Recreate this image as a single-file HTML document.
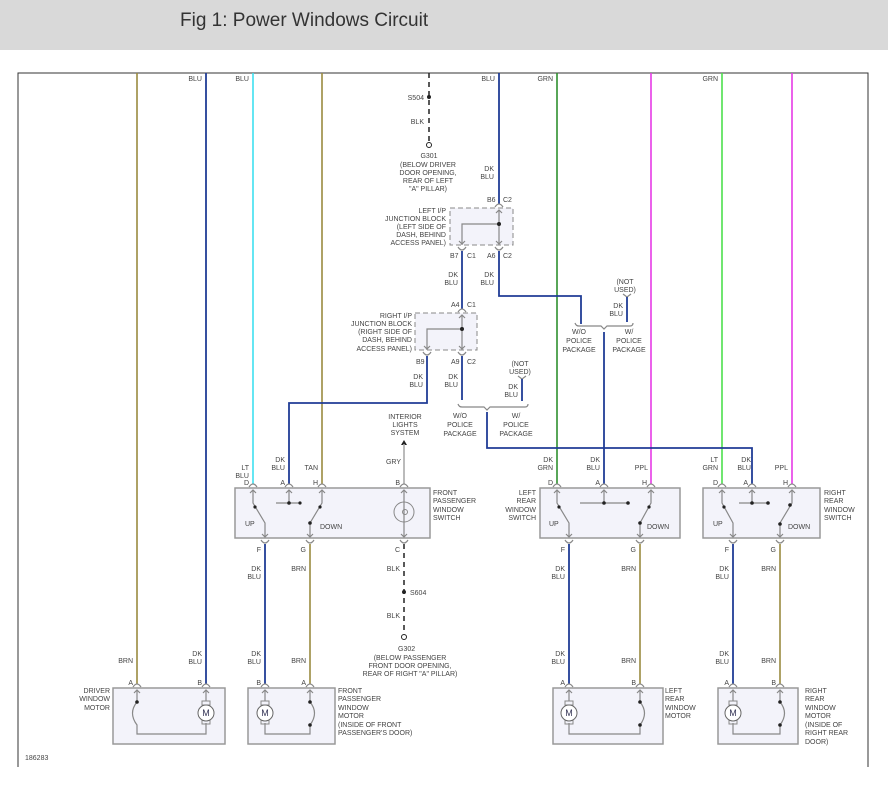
<!DOCTYPE html>
<html><head><meta charset="utf-8"><style>
body{margin:0;background:#fff;}
.hdr{position:absolute;left:0;top:0;width:888px;height:50px;background:#d9d9d9;}
.hdr span{position:absolute;left:180px;top:10px;font:19px "Liberation Sans",sans-serif;color:#333;}
svg{position:absolute;left:0;top:0;}
text{font-family:"Liberation Sans",sans-serif;font-size:7px;fill:#444;}
.e{text-anchor:end}.m{text-anchor:middle}
.bx{fill:#f3f3fa;stroke:#999;stroke-width:1.5}
.g{stroke:#888;stroke-width:1.2;fill:none}
.brn{stroke:#9a8a40;stroke-width:1.6;fill:none}
.db{stroke:#203c96;stroke-width:1.8;fill:none}
.lb{stroke:#3ee0f0;stroke-width:1.6}
.gr{stroke:#2f8f2f;stroke-width:1.6}
.lg{stroke:#4de04d;stroke-width:1.6}
.pp{stroke:#e63ae6;stroke-width:1.6}
.bk{stroke:#222;stroke-width:1.5;stroke-dasharray:5,4}
</style></head><body>
<div class="hdr"><span>Fig 1: Power Windows Circuit</span></div>
<svg width="888" height="795" viewBox="0 0 888 795">
<defs>
<g id="ct"><path d="M-4,-1 Q0,-7 4,-1" class="g"/><path d="M-3,5 L0,2 L3,5" class="g"/></g>
<g id="cb"><path d="M-4,1 Q0,7 4,1" class="g"/><path d="M-3,-5 L0,-2 L3,-5" class="g"/></g>
</defs>
<path d="M18,767 L18,73 L868,73 L868,767" fill="none" stroke="#333" stroke-width="1"/>
<text x="25" y="760">186283</text>
<!-- top wires -->
<line x1="137" y1="73" x2="137" y2="684" class="brn"/>
<line x1="206" y1="73" x2="206" y2="684" class="db"/>
<line x1="253" y1="73" x2="253" y2="484" class="lb"/>
<line x1="322" y1="73" x2="322" y2="484" class="brn"/>
<line x1="429" y1="73" x2="429" y2="143" class="bk"/>
<circle cx="429" cy="97" r="2" fill="#222"/><circle cx="429" cy="145" r="2.5" fill="none" stroke="#222"/>
<line x1="499" y1="73" x2="499" y2="204" class="db"/>
<line x1="557" y1="73" x2="557" y2="484" class="gr"/>
<line x1="651" y1="73" x2="651" y2="484" class="pp"/>
<line x1="722" y1="73" x2="722" y2="484" class="lg"/>
<line x1="792" y1="73" x2="792" y2="484" class="pp"/>
<text x="202" y="81" class="e">BLU</text><text x="249" y="81" class="e">BLU</text>
<text x="495" y="81" class="e">BLU</text><text x="553" y="81" class="e">GRN</text><text x="718" y="81" class="e">GRN</text>
<text x="424" y="100" class="e">S504</text><text x="424" y="124" class="e">BLK</text>
<text x="429" y="158" class="m">G301</text>
<text x="428" y="167" class="m">(BELOW DRIVER</text><text x="428" y="175" class="m">DOOR OPENING,</text><text x="428" y="183" class="m">REAR OF LEFT</text><text x="428" y="191" class="m">"A" PILLAR)</text>
<text x="494" y="171" class="e">DK</text><text x="494" y="179" class="e">BLU</text>
<!-- left IP JB -->
<rect x="450" y="208" width="63" height="37" fill="#f3f3fa" stroke="#888" stroke-dasharray="5,3"/>
<line x1="499" y1="210" x2="499" y2="245" class="g"/><path d="M499,224 L462,224 L462,245" class="g"/><circle cx="499" cy="224" r="2" fill="#222"/>
<use href="#ct" x="499" y="208"/><use href="#cb" x="462" y="246"/><use href="#cb" x="499" y="246"/>
<text x="487" y="202">B6</text><text x="503" y="202">C2</text>
<text x="446" y="213" class="e">LEFT I/P</text><text x="446" y="221" class="e">JUNCTION BLOCK</text><text x="446" y="229" class="e">(LEFT SIDE OF</text><text x="446" y="237" class="e">DASH, BEHIND</text><text x="446" y="245" class="e">ACCESS PANEL)</text>
<text x="450" y="258">B7</text><text x="467" y="258">C1</text><text x="487" y="258">A6</text><text x="503" y="258">C2</text>
<line x1="462" y1="251" x2="462" y2="309" class="db"/>
<path d="M499,251 L499,296 L581,296 L581,324" class="db"/>
<text x="458" y="277" class="e">DK</text><text x="458" y="285" class="e">BLU</text><text x="494" y="277" class="e">DK</text><text x="494" y="285" class="e">BLU</text>
<!-- right IP JB -->
<rect x="415" y="313" width="62" height="37" fill="#f3f3fa" stroke="#888" stroke-dasharray="5,3"/>
<line x1="462" y1="315" x2="462" y2="350" class="g"/><path d="M462,329 L427,329 L427,350" class="g"/><circle cx="462" cy="329" r="2" fill="#222"/>
<use href="#ct" x="462" y="313"/><use href="#cb" x="427" y="351"/><use href="#cb" x="462" y="351"/>
<text x="451" y="307">A4</text><text x="467" y="307">C1</text>
<text x="412" y="318" class="e">RIGHT I/P</text><text x="412" y="326" class="e">JUNCTION BLOCK</text><text x="412" y="334" class="e">(RIGHT SIDE OF</text><text x="412" y="342" class="e">DASH, BEHIND</text><text x="412" y="351" class="e">ACCESS PANEL)</text>
<text x="416" y="364">B9</text><text x="451" y="364">A9</text><text x="467" y="364">C2</text>
<path d="M427,356 L427,403 L289,403 L289,484" class="db"/>
<line x1="462" y1="356" x2="462" y2="400" class="db"/>
<text x="423" y="379" class="e">DK</text><text x="423" y="387" class="e">BLU</text><text x="458" y="379" class="e">DK</text><text x="458" y="387" class="e">BLU</text>
<!-- police braces -->
<text x="520" y="366" class="m">(NOT</text><text x="520" y="374" class="m">USED)</text>
<path d="M518,376 L522,379 L526,376" class="g"/>
<line x1="522" y1="379" x2="522" y2="401" class="db"/>
<text x="518" y="389" class="e">DK</text><text x="518" y="397" class="e">BLU</text>
<path d="M458,404 Q459,407 462,407 L484,407 L487,410 L490,407 L525,407 Q528,407 528,404" class="g"/>
<path d="M487,412 L487,448 L752,448 L752,484" class="db"/>
<text x="460" y="418" class="m">W/O</text><text x="460" y="427" class="m">POLICE</text><text x="460" y="436" class="m">PACKAGE</text>
<text x="516" y="418" class="m">W/</text><text x="516" y="427" class="m">POLICE</text><text x="516" y="436" class="m">PACKAGE</text>
<text x="625" y="284" class="m">(NOT</text><text x="625" y="292" class="m">USED)</text>
<path d="M623,294 L627,297 L631,294" class="g"/>
<line x1="627" y1="297" x2="627" y2="322" class="db"/>
<text x="623" y="308" class="e">DK</text><text x="623" y="316" class="e">BLU</text>
<path d="M575,323 Q576,326 579,326 L601,326 L604,329 L607,326 L630,326 Q633,326 633,323" class="g"/>
<line x1="604" y1="332" x2="604" y2="484" class="db"/>
<text x="579" y="334" class="m">W/O</text><text x="579" y="343" class="m">POLICE</text><text x="579" y="352" class="m">PACKAGE</text>
<text x="629" y="334" class="m">W/</text><text x="629" y="343" class="m">POLICE</text><text x="629" y="352" class="m">PACKAGE</text>
<!-- interior lights -->
<text x="405" y="419" class="m">INTERIOR</text><text x="405" y="427" class="m">LIGHTS</text><text x="405" y="435" class="m">SYSTEM</text>
<path d="M401,445 L404,440 L407,445 Z" fill="#222"/>
<line x1="404" y1="444" x2="404" y2="484" stroke="#aaa" stroke-width="1.6"/>
<text x="401" y="464" class="e">GRY</text>
<!-- front pass switch -->
<rect x="235" y="488" width="195" height="50" class="bx"/>
<text x="249" y="470" class="e">LT</text><text x="249" y="478" class="e">BLU</text>
<text x="285" y="462" class="e">DK</text><text x="285" y="470" class="e">BLU</text>
<text x="318" y="470" class="e">TAN</text>
<text x="249" y="485" class="e">D</text><text x="285" y="485" class="e">A</text><text x="318" y="485" class="e">H</text><text x="400" y="485" class="e">B</text>
<use href="#ct" x="253" y="488"/><use href="#ct" x="289" y="488"/><use href="#ct" x="322" y="488"/><use href="#ct" x="404" y="488"/>
<path d="M253,490 L253,503 L265,523 L265,537" class="g"/><path d="M322,490 L322,503 L310,523 L310,537" class="g"/>
<circle cx="255" cy="507" r="1.6" fill="#222"/><circle cx="320" cy="507" r="1.6" fill="#222"/><circle cx="310" cy="523" r="1.8" fill="#222"/>
<path d="M289,490 L289,503 M276,503 L300,503" class="g"/><circle cx="289" cy="503" r="1.8" fill="#222"/><circle cx="300" cy="503" r="1.6" fill="#222"/>
<line x1="404" y1="490" x2="404" y2="537" class="g"/><circle cx="404" cy="512" r="10" fill="none" stroke="#888"/><circle cx="405" cy="512" r="2.5" fill="none" stroke="#888"/>
<text x="245" y="526">UP</text><text x="320" y="529">DOWN</text>
<text x="433" y="495">FRONT</text><text x="433" y="503">PASSENGER</text><text x="433" y="512">WINDOW</text><text x="433" y="520">SWITCH</text>
<use href="#cb" x="265" y="539"/><use href="#cb" x="310" y="539"/><use href="#cb" x="404" y="539"/>
<text x="261" y="552" class="e">F</text><text x="306" y="552" class="e">G</text><text x="400" y="552" class="e">C</text>
<line x1="265" y1="544" x2="265" y2="684" class="db"/><line x1="310" y1="544" x2="310" y2="684" class="brn"/>
<line x1="404" y1="544" x2="404" y2="634" class="bk"/>
<circle cx="404" cy="592" r="2" fill="#222"/><circle cx="404" cy="637" r="2.5" fill="none" stroke="#222"/>
<text x="261" y="571" class="e">DK</text><text x="261" y="579" class="e">BLU</text><text x="306" y="571" class="e">BRN</text><text x="400" y="571" class="e">BLK</text>
<text x="410" y="595">S604</text><text x="400" y="618" class="e">BLK</text>
<text x="398" y="651">G302</text>
<text x="410" y="660" class="m">(BELOW PASSENGER</text><text x="410" y="668" class="m">FRONT DOOR OPENING,</text><text x="410" y="676" class="m">REAR OF RIGHT "A" PILLAR)</text>
<!-- left rear switch -->
<rect x="540" y="488" width="140" height="50" class="bx"/>
<text x="553" y="462" class="e">DK</text><text x="553" y="470" class="e">GRN</text>
<text x="600" y="462" class="e">DK</text><text x="600" y="470" class="e">BLU</text><text x="648" y="470" class="e">PPL</text>
<text x="553" y="485" class="e">D</text><text x="600" y="485" class="e">A</text><text x="647" y="485" class="e">H</text>
<use href="#ct" x="557" y="488"/><use href="#ct" x="604" y="488"/><use href="#ct" x="651" y="488"/>
<path d="M557,490 L557,503 L569,523 L569,537" class="g"/><path d="M651,490 L651,503 L640,523 L640,537" class="g"/>
<circle cx="559" cy="507" r="1.6" fill="#222"/><circle cx="649" cy="507" r="1.6" fill="#222"/><circle cx="640" cy="523" r="1.8" fill="#222"/>
<path d="M604,490 L604,503 M580,503 L628,503" class="g"/><circle cx="604" cy="503" r="1.8" fill="#222"/><circle cx="628" cy="503" r="1.8" fill="#222"/>
<text x="549" y="526">UP</text><text x="647" y="529">DOWN</text>
<text x="536" y="495" class="e">LEFT</text><text x="536" y="503" class="e">REAR</text><text x="536" y="512" class="e">WINDOW</text><text x="536" y="520" class="e">SWITCH</text>
<use href="#cb" x="569" y="539"/><use href="#cb" x="640" y="539"/>
<text x="565" y="552" class="e">F</text><text x="636" y="552" class="e">G</text>
<line x1="569" y1="544" x2="569" y2="684" class="db"/><line x1="640" y1="544" x2="640" y2="684" class="brn"/>
<text x="565" y="571" class="e">DK</text><text x="565" y="579" class="e">BLU</text><text x="636" y="571" class="e">BRN</text>
<!-- right rear switch -->
<rect x="703" y="488" width="117" height="50" class="bx"/>
<text x="718" y="462" class="e">LT</text><text x="718" y="470" class="e">GRN</text>
<text x="751" y="462" class="e">DK</text><text x="751" y="470" class="e">BLU</text><text x="788" y="470" class="e">PPL</text>
<text x="718" y="485" class="e">D</text><text x="748" y="485" class="e">A</text><text x="788" y="485" class="e">H</text>
<use href="#ct" x="722" y="488"/><use href="#ct" x="752" y="488"/><use href="#ct" x="792" y="488"/>
<path d="M722,490 L722,503 L733,523 L733,537" class="g"/><path d="M792,490 L792,503 L780,523 L780,537" class="g"/>
<circle cx="724" cy="507" r="1.6" fill="#222"/><circle cx="790" cy="505" r="1.8" fill="#222"/><circle cx="780" cy="524" r="1.8" fill="#222"/>
<path d="M752,490 L752,503 M739,503 L768,503" class="g"/><circle cx="752" cy="503" r="1.8" fill="#222"/><circle cx="768" cy="503" r="1.8" fill="#222"/>
<text x="713" y="526">UP</text><text x="788" y="529">DOWN</text>
<text x="824" y="495">RIGHT</text><text x="824" y="503">REAR</text><text x="824" y="512">WINDOW</text><text x="824" y="520">SWITCH</text>
<use href="#cb" x="733" y="539"/><use href="#cb" x="780" y="539"/>
<text x="729" y="552" class="e">F</text><text x="776" y="552" class="e">G</text>
<line x1="733" y1="544" x2="733" y2="684" class="db"/><line x1="780" y1="544" x2="780" y2="684" class="brn"/>
<text x="729" y="571" class="e">DK</text><text x="729" y="579" class="e">BLU</text><text x="776" y="571" class="e">BRN</text>
<!-- lower labels -->
<text x="133" y="663" class="e">BRN</text><text x="202" y="656" class="e">DK</text><text x="202" y="664" class="e">BLU</text>
<text x="261" y="656" class="e">DK</text><text x="261" y="664" class="e">BLU</text><text x="306" y="663" class="e">BRN</text>
<text x="565" y="656" class="e">DK</text><text x="565" y="664" class="e">BLU</text><text x="636" y="663" class="e">BRN</text>
<text x="729" y="656" class="e">DK</text><text x="729" y="664" class="e">BLU</text><text x="776" y="663" class="e">BRN</text>
<!-- motors -->
<rect x="113" y="688" width="112" height="56" class="bx"/>
<text x="133" y="685" class="e">A</text><text x="202" y="685" class="e">B</text>
<use href="#ct" x="137" y="688"/><use href="#ct" x="206" y="688"/>
<path d="M137,690 L137,702 Q128,713 137,725 L137,734 L206,734 L206,723 M206,701 L206,690" class="g"/>
<circle cx="137" cy="702" r="1.8" fill="#222"/>
<rect x="202" y="701" width="8" height="4" fill="none" stroke="#888"/><rect x="202" y="720" width="8" height="4" fill="none" stroke="#888"/>
<circle cx="206" cy="713" r="8" fill="#fff" stroke="#666"/><text x="206" y="716" class="m" style="font-size:9px;fill:#335">M</text>
<text x="110" y="693" class="e">DRIVER</text><text x="110" y="701" class="e">WINDOW</text><text x="110" y="710" class="e">MOTOR</text>

<rect x="248" y="688" width="87" height="56" class="bx"/>
<text x="261" y="685" class="e">B</text><text x="306" y="685" class="e">A</text>
<use href="#ct" x="265" y="688"/><use href="#ct" x="310" y="688"/>
<path d="M310,690 L310,702 Q319,713 310,725 L310,734 L265,734 L265,723 M265,701 L265,690" class="g"/>
<circle cx="310" cy="702" r="1.8" fill="#222"/><circle cx="310" cy="725" r="1.8" fill="#222"/>
<rect x="261" y="701" width="8" height="4" fill="none" stroke="#888"/><rect x="261" y="720" width="8" height="4" fill="none" stroke="#888"/>
<circle cx="265" cy="713" r="8" fill="#fff" stroke="#666"/><text x="265" y="716" class="m" style="font-size:9px;fill:#335">M</text>
<text x="338" y="693">FRONT</text><text x="338" y="701">PASSENGER</text><text x="338" y="710">WINDOW</text><text x="338" y="718">MOTOR</text><text x="338" y="727">(INSIDE OF FRONT</text><text x="338" y="735">PASSENGER'S DOOR)</text>

<rect x="553" y="688" width="110" height="56" class="bx"/>
<text x="565" y="685" class="e">A</text><text x="636" y="685" class="e">B</text>
<use href="#ct" x="569" y="688"/><use href="#ct" x="640" y="688"/>
<path d="M640,690 L640,702 Q649,713 640,725 L640,734 L569,734 L569,723 M569,701 L569,690" class="g"/>
<circle cx="640" cy="702" r="1.8" fill="#222"/><circle cx="640" cy="725" r="1.8" fill="#222"/>
<rect x="565" y="701" width="8" height="4" fill="none" stroke="#888"/><rect x="565" y="720" width="8" height="4" fill="none" stroke="#888"/>
<circle cx="569" cy="713" r="8" fill="#fff" stroke="#666"/><text x="569" y="716" class="m" style="font-size:9px;fill:#335">M</text>
<text x="665" y="693">LEFT</text><text x="665" y="701">REAR</text><text x="665" y="710">WINDOW</text><text x="665" y="718">MOTOR</text>

<rect x="718" y="688" width="80" height="56" class="bx"/>
<text x="729" y="685" class="e">A</text><text x="776" y="685" class="e">B</text>
<use href="#ct" x="733" y="688"/><use href="#ct" x="780" y="688"/>
<path d="M780,690 L780,702 Q789,713 780,725 L780,734 L733,734 L733,723 M733,701 L733,690" class="g"/>
<circle cx="780" cy="702" r="1.8" fill="#222"/><circle cx="780" cy="725" r="1.8" fill="#222"/>
<rect x="729" y="701" width="8" height="4" fill="none" stroke="#888"/><rect x="729" y="720" width="8" height="4" fill="none" stroke="#888"/>
<circle cx="733" cy="713" r="8" fill="#fff" stroke="#666"/><text x="733" y="716" class="m" style="font-size:9px;fill:#335">M</text>
<text x="805" y="693">RIGHT</text><text x="805" y="701">REAR</text><text x="805" y="710">WINDOW</text><text x="805" y="718">MOTOR</text><text x="805" y="727">(INSIDE OF</text><text x="805" y="735">RIGHT REAR</text><text x="805" y="744">DOOR)</text>
</svg>
</body></html>
